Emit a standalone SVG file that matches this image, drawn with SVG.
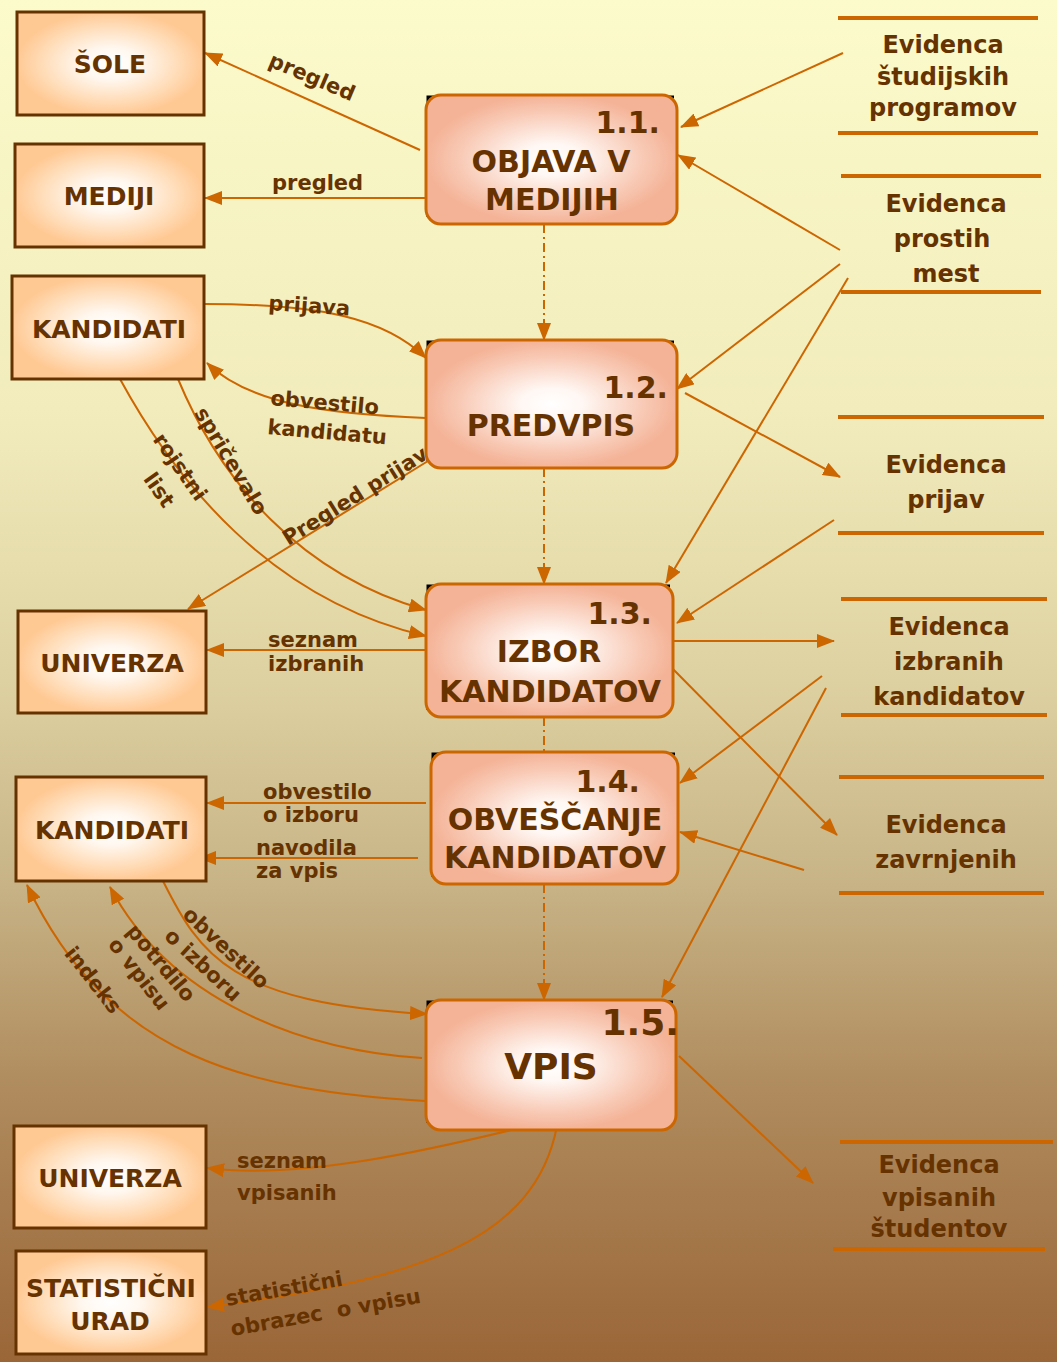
<svg xmlns="http://www.w3.org/2000/svg" width="1057" height="1362" viewBox="0 0 1057 1362">
  <defs>
    <linearGradient id="bg" x1="0" y1="0" x2="0" y2="1">
      <stop offset="0" stop-color="#FCFBCB"/>
      <stop offset="0.3" stop-color="#F2ECBC"/>
      <stop offset="0.5" stop-color="#DED1A1"/>
      <stop offset="0.65" stop-color="#C7B386"/>
      <stop offset="0.8" stop-color="#AF8B5D"/>
      <stop offset="1" stop-color="#9A6638"/>
    </linearGradient>
    <radialGradient id="entFill" cx="0.5" cy="0.5" r="0.5">
      <stop offset="0" stop-color="#FFFFFF"/>
      <stop offset="0.3" stop-color="#FFF8F0"/>
      <stop offset="0.75" stop-color="#FFDBB5"/>
      <stop offset="1" stop-color="#FFC994"/>
    </radialGradient>
    <radialGradient id="procFill" cx="0.5" cy="0.5" r="0.5">
      <stop offset="0" stop-color="#FFFFFF"/>
      <stop offset="0.25" stop-color="#FFF7F3"/>
      <stop offset="0.75" stop-color="#F8C8B3"/>
      <stop offset="1" stop-color="#F4B397"/>
    </radialGradient>
    <marker id="arr" markerWidth="18" markerHeight="14" refX="17" refY="7" orient="auto" markerUnits="userSpaceOnUse">
      <path d="M0,0 L18,7 L0,14 z" fill="#CC6600"/>
    </marker>
    <style>
      .ent rect { fill: url(#entFill); stroke: #663300; stroke-width: 3; }
      .proc rect { fill: url(#procFill); stroke: #CC6600; stroke-width: 3; }
      .proc .tick { fill: none; stroke: #000; stroke-width: 3; }
      .store line { stroke: #CC6600; stroke-width: 4; }
      text { font-family: "DejaVu Sans", "Liberation Sans", sans-serif; font-weight: bold; fill: #663300; }
      .ent text { font-size: 25px; text-anchor: middle; }
      .proc text { font-size: 30px; text-anchor: middle; }
      .proc text.num { text-anchor: end; }
      .store text { font-size: 24px; text-anchor: middle; }
      .lbl text { font-size: 21px; }
      .lbl .c { text-anchor: middle; }
      .flow { fill: none; stroke: #CC6600; stroke-width: 2; marker-end: url(#arr); }
      .ctl { fill: none; stroke: #CC6600; stroke-width: 2; stroke-dasharray: 9 4 2 4; }
    </style>
  </defs>

  <rect x="0" y="0" width="1057" height="1362" fill="url(#bg)"/>

  <!-- data flows -->
  <g id="connectors">
    <!-- 1.1 outputs -->
    <line class="flow" x1="420" y1="150" x2="205" y2="53"/>
    <line class="flow" x1="426" y1="198" x2="205" y2="198"/>
    <!-- stores into 1.1 -->
    <line class="flow" x1="843" y1="53" x2="681" y2="127"/>
    <line class="flow" x1="840" y1="250" x2="678" y2="155"/>
    <!-- control sequence between processes -->
    <line class="ctl" x1="544" y1="224" x2="544" y2="340" marker-end="url(#arr)"/>
    <line class="ctl" x1="544" y1="468" x2="544" y2="584" marker-end="url(#arr)"/>
    <line class="ctl" x1="544" y1="717" x2="544" y2="752"/>
    <line class="ctl" x1="544" y1="884" x2="544" y2="1000" marker-end="url(#arr)"/>
    <!-- KANDIDATI <-> 1.2 -->
    <path class="flow" d="M205,304 C320,304 385,318 426,358"/>
    <path class="flow" d="M426,418 C330,414 250,405 207,363"/>
    <line class="flow" x1="428" y1="461" x2="188" y2="609"/>
    <!-- stores around 1.2 -->
    <line class="flow" x1="840" y1="264" x2="677" y2="389"/>
    <line class="flow" x1="685" y1="393" x2="840" y2="477"/>
    <!-- KANDIDATI -> 1.3 -->
    <path class="flow" d="M178,379 C220,480 300,575 426,610"/>
    <path class="flow" d="M120,379 C175,480 270,600 426,636"/>
    <!-- 1.3 flows -->
    <line class="flow" x1="426" y1="650" x2="207" y2="650"/>
    <line class="flow" x1="848" y1="278" x2="666" y2="583"/>
    <line class="flow" x1="834" y1="520" x2="677" y2="623"/>
    <line class="flow" x1="673" y1="641" x2="834" y2="641"/>
    <line class="flow" x1="669" y1="665" x2="837" y2="835"/>
    <!-- 1.4 flows -->
    <line class="flow" x1="822" y1="676" x2="680" y2="783"/>
    <line class="flow" x1="804" y1="870" x2="680" y2="832"/>
    <line class="flow" x1="426" y1="803" x2="207" y2="803"/>
    <line class="flow" x1="418" y1="858" x2="199" y2="858"/>
    <!-- 1.5 flows -->
    <line class="flow" x1="826" y1="688" x2="662" y2="997"/>
    <path class="flow" d="M163,881 C200,955 230,1003 427,1014"/>
    <path class="flow" d="M422,1058 C300,1050 170,1000 110,887"/>
    <path class="flow" d="M425,1101 C250,1090 110,1060 27,885"/>
    <line class="flow" x1="679" y1="1056" x2="813" y2="1183"/>
    <path class="flow" d="M528,1126 C430,1150 300,1180 207,1168"/>
    <path class="flow" d="M557,1126 C535,1240 420,1280 207,1307"/>
  </g>

  <!-- flow labels -->
  <g id="labels" class="lbl">
    <text class="c" transform="translate(312,77) rotate(23)" y="7">pregled</text>
    <text x="272" y="190">pregled</text>
    <text transform="rotate(4 268 310)" x="268" y="310">prijava</text>
    <text transform="rotate(5 270 405)" x="270" y="405">obvestilo</text>
    <text transform="rotate(5 267 434)" x="267" y="434">kandidatu</text>
    <text class="c" transform="translate(231,461) rotate(59)" y="7">spričevalo</text>
    <text class="c" transform="translate(180,467) rotate(55)" y="7">rojstni</text>
    <text class="c" transform="translate(159,490) rotate(55)" y="7">list</text>
    <text class="c" transform="translate(355,496) rotate(-32)" y="7">Pregled prijav</text>
    <text x="268" y="647">seznam</text>
    <text x="268" y="671">izbranih</text>
    <text x="263" y="799">obvestilo</text>
    <text x="263" y="822">o izboru</text>
    <text x="256" y="855">navodila</text>
    <text x="256" y="878">za vpis</text>
    <text class="c" transform="translate(226,948) rotate(43)" y="7">obvestilo</text>
    <text class="c" transform="translate(203,965) rotate(43)" y="7">o izboru</text>
    <text class="c" transform="translate(161,963) rotate(50)" y="7">potrdilo</text>
    <text class="c" transform="translate(139,974) rotate(52)" y="7">o vpisu</text>
    <text class="c" transform="translate(93,980) rotate(52)" y="7">indeks</text>
    <text x="237" y="1168">seznam</text>
    <text x="237" y="1200">vpisanih</text>
    <text transform="rotate(-10 227 1306)" x="227" y="1306">statistični</text>
    <text transform="rotate(-10 232 1336)" x="232" y="1336" style="white-space:pre">obrazec  o vpisu</text>
  </g>

  <!-- external entities -->
  <g id="ent-sole" class="ent">
    <rect x="17" y="12" width="187" height="103"/>
    <text x="110" y="73">ŠOLE</text>
  </g>
  <g id="ent-mediji" class="ent">
    <rect x="15" y="144" width="189" height="103"/>
    <text x="109" y="205">MEDIJI</text>
  </g>
  <g id="ent-kandidati-1" class="ent">
    <rect x="12" y="276" width="192" height="103"/>
    <text x="109" y="338">KANDIDATI</text>
  </g>
  <g id="ent-univerza-1" class="ent">
    <rect x="18" y="611" width="188" height="102"/>
    <text x="112" y="672">UNIVERZA</text>
  </g>
  <g id="ent-kandidati-2" class="ent">
    <rect x="16" y="777" width="190" height="104"/>
    <text x="112" y="839">KANDIDATI</text>
  </g>
  <g id="ent-univerza-2" class="ent">
    <rect x="14" y="1126" width="192" height="102"/>
    <text x="110" y="1187">UNIVERZA</text>
  </g>
  <g id="ent-statisticni-urad" class="ent">
    <rect x="16" y="1251" width="190" height="103"/>
    <text x="111" y="1297">STATISTIČNI</text>
    <text x="110" y="1330">URAD</text>
  </g>

  <!-- processes -->
  <g id="proc-1-1" class="proc">
    <path class="tick" d="M428,106 V97 H443 M662,97 H674 M428,207 V217"/>
    <rect x="426" y="95" width="251" height="129" rx="15"/>
    <text class="num" x="660" y="133">1.1.</text>
    <text x="551" y="172">OBJAVA V</text>
    <text x="552" y="210">MEDIJIH</text>
  </g>
  <g id="proc-1-2" class="proc">
    <path class="tick" d="M428,351 V342 H443 M662,342 H674 M428,451 V461"/>
    <rect x="426" y="340" width="251" height="128" rx="15"/>
    <text class="num" x="668" y="398">1.2.</text>
    <text x="551" y="436">PREDVPIS</text>
  </g>
  <g id="proc-1-3" class="proc">
    <path class="tick" d="M428,595 V586 H443 M658,586 H670 M428,700 V710"/>
    <rect x="426" y="584" width="247" height="133" rx="15"/>
    <text class="num" x="652" y="624">1.3.</text>
    <text x="549" y="662">IZBOR</text>
    <text x="550" y="702">KANDIDATOV</text>
  </g>
  <g id="proc-1-4" class="proc">
    <path class="tick" d="M433,763 V754 H448 M663,754 H675 M433,867 V877"/>
    <rect x="431" y="752" width="247" height="132" rx="15"/>
    <text class="num" x="640" y="792">1.4.</text>
    <text x="555" y="830">OBVEŠČANJE</text>
    <text x="555" y="868">KANDIDATOV</text>
  </g>
  <g id="proc-1-5" class="proc">
    <path class="tick" d="M428,1011 V1002 H443 M661,1002 H673 M428,1113 V1123"/>
    <rect x="426" y="1000" width="250" height="130" rx="15"/>
    <text class="num" x="679" y="1035" style="font-size:36px">1.5.</text>
    <text x="551" y="1079" style="font-size:36px">VPIS</text>
  </g>

  <!-- data stores -->
  <g id="store-studijski-programi" class="store">
    <line x1="838" y1="18" x2="1038" y2="18"/>
    <line x1="838" y1="133" x2="1038" y2="133"/>
    <text x="943" y="53">Evidenca</text>
    <text x="943" y="85">študijskih</text>
    <text x="943" y="116">programov</text>
  </g>
  <g id="store-prosta-mesta" class="store">
    <line x1="841" y1="176" x2="1041" y2="176"/>
    <line x1="841" y1="292" x2="1041" y2="292"/>
    <text x="946" y="212">Evidenca</text>
    <text x="942" y="247">prostih</text>
    <text x="946" y="282">mest</text>
  </g>
  <g id="store-prijave" class="store">
    <line x1="838" y1="417" x2="1044" y2="417"/>
    <line x1="838" y1="533" x2="1044" y2="533"/>
    <text x="946" y="473">Evidenca</text>
    <text x="946" y="508">prijav</text>
  </g>
  <g id="store-izbrani" class="store">
    <line x1="841" y1="599" x2="1047" y2="599"/>
    <line x1="841" y1="715" x2="1047" y2="715"/>
    <text x="949" y="635">Evidenca</text>
    <text x="949" y="670">izbranih</text>
    <text x="949" y="705">kandidatov</text>
  </g>
  <g id="store-zavrnjeni" class="store">
    <line x1="839" y1="777" x2="1044" y2="777"/>
    <line x1="839" y1="893" x2="1044" y2="893"/>
    <text x="946" y="833">Evidenca</text>
    <text x="946" y="868">zavrnjenih</text>
  </g>
  <g id="store-vpisani" class="store">
    <line x1="840" y1="1142" x2="1053" y2="1142"/>
    <line x1="833" y1="1249" x2="1045" y2="1249"/>
    <text x="939" y="1173">Evidenca</text>
    <text x="939" y="1206">vpisanih</text>
    <text x="939" y="1237">študentov</text>
  </g>
</svg>
